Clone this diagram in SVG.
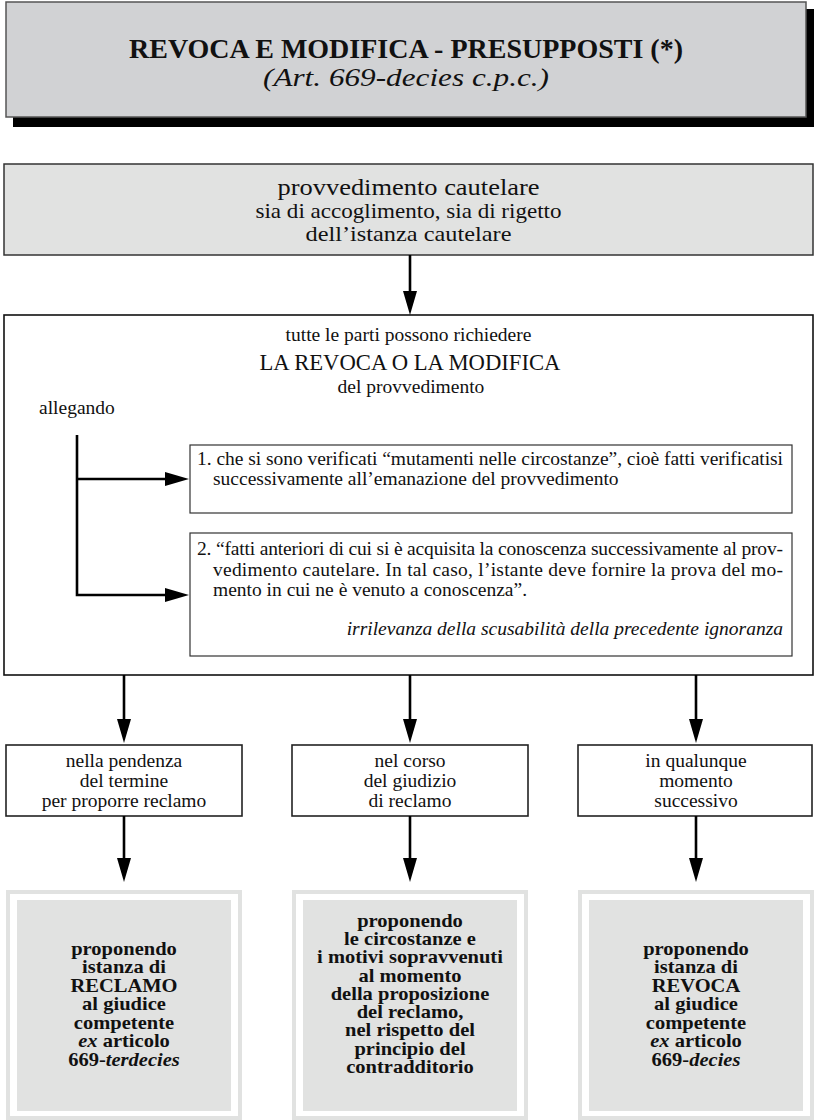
<svg xmlns="http://www.w3.org/2000/svg" width="814" height="1120" viewBox="0 0 814 1120">
<style>
text{font-family:"Liberation Serif","Times New Roman",serif;fill:#111}
.c{text-anchor:middle}
.b{font-weight:bold}
.i{font-style:italic}
.body{font-size:19.5px}
.sm{font-size:19.5px}
.bot text{font-size:18px;font-weight:bold;text-anchor:middle}
.conn{stroke:#000;stroke-width:2.6;fill:none;marker-end:url(#ah)}
.inner{fill:#fff;stroke:#333;stroke-width:1.2}
.mid{fill:#fff;stroke:#222;stroke-width:1.6}
.g1{fill:#e1e2e1}
</style>
<defs>
<marker id="ah" markerUnits="userSpaceOnUse" markerWidth="24" markerHeight="14" viewBox="0 0 24 14" refX="12" refY="7" orient="auto">
<path d="M0,0 L24,7 L0,14 Z" fill="#000"/>
</marker>
</defs>

<g id="title">
<rect x="13" y="9" width="801" height="118" fill="#000"/>
<rect x="6" y="2" width="800" height="115" fill="#d1d2d4" stroke="#555" stroke-width="1.5"/>
<text class="c b" x="406" y="58" font-size="28">REVOCA E MODIFICA - PRESUPPOSTI (*)</text>
<text class="c i" x="406" y="86" font-size="26" textLength="286" lengthAdjust="spacingAndGlyphs">(Art. 669-decies c.p.c.)</text>
</g>

<g id="provvedimento">
<rect x="4" y="164" width="809" height="91" fill="#e1e2e1" stroke="#333" stroke-width="1.5"/>
<text class="c" x="408.5" y="195" font-size="24" textLength="262" lengthAdjust="spacingAndGlyphs">provvedimento cautelare</text>
<text class="c" x="408.5" y="218" font-size="22" textLength="306" lengthAdjust="spacingAndGlyphs">sia di accoglimento, sia di rigetto</text>
<text class="c" x="408.5" y="241" font-size="22" textLength="206" lengthAdjust="spacingAndGlyphs">dell’istanza cautelare</text>
</g>

<g id="revoca">
<rect x="4" y="315" width="809" height="360" fill="#fff" stroke="#111" stroke-width="1.6"/>
<text class="c body" x="408.5" y="341">tutte le parti possono richiedere</text>
<text class="c" x="410" y="370" font-size="23" textLength="301" lengthAdjust="spacingAndGlyphs">LA REVOCA O LA MODIFICA</text>
<text class="c body" x="411" y="393">del provvedimento</text>
<text class="body" x="39" y="414">allegando</text>
</g>

<g id="punto1">
<rect class="inner" x="190" y="445" width="602" height="68"/>
<text class="body" x="197" y="465" textLength="586" lengthAdjust="spacing">1. che si sono verificati “mutamenti nelle circostanze”, cioè fatti verificatisi</text>
<text class="body" x="213" y="485">successivamente all’emanazione del provvedimento</text>
</g>

<g id="punto2">
<rect class="inner" x="190" y="533" width="602" height="123"/>
<text class="body" x="197" y="555" textLength="586" lengthAdjust="spacing">2. “fatti anteriori di cui si è acquisita la conoscenza successivamente al prov-</text>
<text class="body" x="213" y="575.5" textLength="570" lengthAdjust="spacing">vedimento cautelare. In tal caso, l’istante deve fornire la prova del mo-</text>
<text class="body" x="213" y="596">mento in cui ne è venuto a conoscenza”.</text>
<text class="body i" x="783" y="635" text-anchor="end">irrilevanza della scusabilità della precedente ignoranza</text>
</g>

<g id="fase1">
<rect class="mid" x="6" y="745" width="236" height="71"/>
<text class="c sm" x="124" y="767">nella pendenza</text>
<text class="c sm" x="124" y="787">del termine</text>
<text class="c sm" x="124" y="807">per proporre reclamo</text>
</g>
<g id="fase2">
<rect class="mid" x="292" y="745" width="236" height="71"/>
<text class="c sm" x="410" y="767">nel corso</text>
<text class="c sm" x="410" y="787">del giudizio</text>
<text class="c sm" x="410" y="807">di reclamo</text>
</g>
<g id="fase3">
<rect class="mid" x="578" y="745" width="234" height="71"/>
<text class="c sm" x="696" y="767">in qualunque</text>
<text class="c sm" x="696" y="787">momento</text>
<text class="c sm" x="696" y="807">successivo</text>
</g>

<g id="esito1">
<rect class="g1" x="6" y="890" width="236" height="230"/>
<rect x="10" y="894" width="228" height="222" fill="#fff"/>
<rect class="g1" x="17" y="900" width="214" height="211"/>
<g class="bot" transform="translate(124 0) scale(1.14 1)">
<text x="0" y="955">proponendo</text>
<text x="0" y="973.5">istanza di</text>
<text x="0" y="992">RECLAMO</text>
<text x="0" y="1010.5">al giudice</text>
<text x="0" y="1029">competente</text>
<text x="0" y="1047.5"><tspan font-style="italic">ex</tspan> articolo</text>
<text x="0" y="1066">669-<tspan font-style="italic">terdecies</tspan></text>
</g>
</g>
<g id="esito2">
<rect class="g1" x="292" y="890" width="236" height="230"/>
<rect x="296" y="894" width="228" height="222" fill="#fff"/>
<rect class="g1" x="303" y="900" width="214" height="211"/>
<g class="bot" transform="translate(410 0) scale(1.14 1)">
<text x="0" y="927">proponendo</text>
<text x="0" y="945.25">le circostanze e</text>
<text x="0" y="963.5">i motivi sopravvenuti</text>
<text x="0" y="981.75">al momento</text>
<text x="0" y="1000">della proposizione</text>
<text x="0" y="1018.25">del reclamo,</text>
<text x="0" y="1036.5">nel rispetto del</text>
<text x="0" y="1054.75">principio del</text>
<text x="0" y="1073">contradditorio</text>
</g>
</g>
<g id="esito3">
<rect class="g1" x="578" y="890" width="236" height="230"/>
<rect x="582" y="894" width="228" height="222" fill="#fff"/>
<rect class="g1" x="589" y="900" width="214" height="211"/>
<g class="bot" transform="translate(696 0) scale(1.14 1)">
<text x="0" y="955">proponendo</text>
<text x="0" y="973.5">istanza di</text>
<text x="0" y="992">REVOCA</text>
<text x="0" y="1010.5">al giudice</text>
<text x="0" y="1029">competente</text>
<text x="0" y="1047.5"><tspan font-style="italic">ex</tspan> articolo</text>
<text x="0" y="1066">669-<tspan font-style="italic">decies</tspan></text>
</g>
</g>

<g id="connectors">
<line class="conn" x1="410" y1="255" x2="410" y2="303"/>
<path d="M77,435 V595 H177" stroke="#000" stroke-width="2.6" fill="none" marker-end="url(#ah)"/>
<line class="conn" x1="77" y1="479" x2="177" y2="479"/>
<line class="conn" x1="124" y1="675" x2="124" y2="731"/>
<line class="conn" x1="410" y1="675" x2="410" y2="731"/>
<line class="conn" x1="696" y1="675" x2="696" y2="731"/>
<line class="conn" x1="124" y1="816" x2="124" y2="870"/>
<line class="conn" x1="410" y1="816" x2="410" y2="870"/>
<line class="conn" x1="696" y1="816" x2="696" y2="870"/>
</g>
</svg>
